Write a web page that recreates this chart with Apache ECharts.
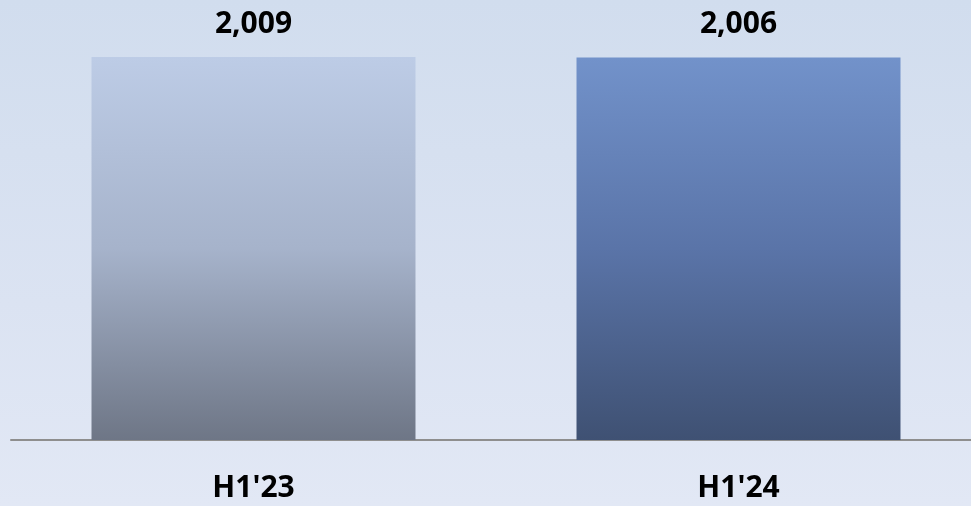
<!DOCTYPE html>
<html><head><meta charset="utf-8">
<script src="https://cdn.jsdelivr.net/npm/echarts@6/dist/echarts.min.js"></script>
<style>html,body{margin:0;padding:0;}#c{width:971px;height:506px;background:linear-gradient(to bottom,#d1ddee 0%,#dbe3f2 60%,#e2e8f5 100%);}</style>
</head><body><div id="c"></div>
<script>
const categories = ["H1'23", "H1'24"];
const values = [2009, 2006];
const barGradients = [
  ['#bdcce6', '#a6b3cb', '#6e7686'],
  ['#7292ca', '#5a74a8', '#3f5173']
];
const chart = echarts.init(document.getElementById('c'));
const font = '"Open Sans", "Noto Sans", sans-serif';
chart.setOption({
  animation: false,
  grid: { left: 11, width: 970, top: 57, bottom: 66, outerBoundsMode: 'none', containLabel: false },
  xAxis: {
    type: 'category', data: categories,
    axisLine: { lineStyle: { color: '#8e8e8e', width: 2 } },
    axisTick: { show: false },
    axisLabel: { margin: 33, fontFamily: font, fontWeight: 'bold', fontSize: 30, color: '#000' }
  },
  yAxis: { type: 'value', min: 0, max: 'dataMax', show: false, splitLine: { show: false } },
  series: [{
    type: 'bar', barWidth: '66.8%',
    data: values.map((v, i) => ({
      value: v,
      itemStyle: { color: new echarts.graphic.LinearGradient(0, 0, 0, 1, [
        { offset: 0, color: barGradients[i][0] },
        { offset: 0.5, color: barGradients[i][1] },
        { offset: 1, color: barGradients[i][2] }
      ]) }
    })),
    label: {
      show: true, position: 'top', distance: 18,
      formatter: p => p.value.toLocaleString('en-US'),
      fontFamily: font, fontWeight: 'bold', fontSize: 30, color: '#000'
    }
  }]
});
</script></body></html>
